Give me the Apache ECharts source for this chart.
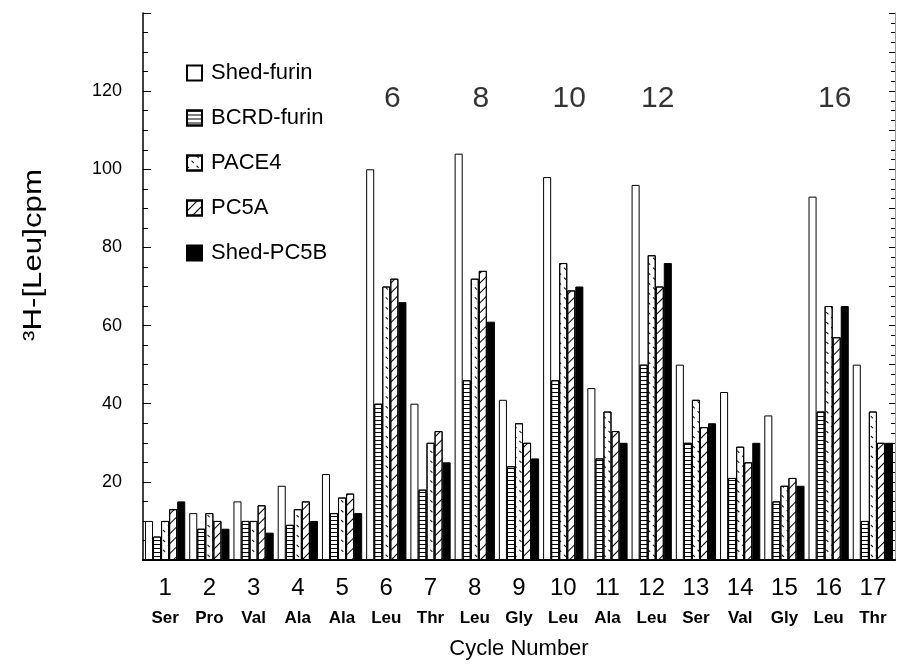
<!DOCTYPE html>
<html>
<head>
<meta charset="utf-8">
<script src="https://cdn.jsdelivr.net/npm/echarts@6/dist/echarts.min.js"></script>
<style>
  html, body { margin: 0; padding: 0; background: #fff; }
  #main { width: 898px; height: 670px; }
</style>
</head>
<body>
<div id="main"></div>
<script>
// data
var cycles = ['1','2','3','4','5','6','7','8','9','10','11','12','13','14','15','16','17'];
var residues = ['Ser','Pro','Val','Ala','Ala','Leu','Thr','Leu','Gly','Leu','Ala','Leu','Ser','Val','Gly','Leu','Thr'];
var shedFurin = [10, 12, 15, 19, 22, 100, 40, 104, 41, 98, 44, 96, 50, 43, 37, 93, 50];
var bcrdFurin = [6, 8, 10, 9, 12, 40, 18, 46, 24, 46, 26, 50, 30, 21, 15, 38, 10];
var pace4 = [10, 12, 10, 13, 16, 70, 30, 72, 35, 76, 38, 78, 41, 29, 19, 65, 38];
var pc5a = [13, 10, 14, 15, 17, 72, 33, 74, 30, 69, 33, 70, 34, 25, 21, 57, 30];
var shedPC5B = [15, 8, 7, 10, 12, 66, 25, 61, 26, 70, 30, 76, 35, 30, 19, 65, 30];
var leuCycles = ['6', '8', '10', '12', '16'];
var leuLabelLevel = 118;
var yTicks = [0, 20, 40, 60, 80, 100, 120, 140];

var FONT = '"Liberation Sans", Arial, Helvetica, sans-serif';

function bar(name, data, style) {
  return {
    name: name,
    type: 'bar',
    data: data,
    barGap: 0,
    barCategoryGap: '9%',
    itemStyle: style
  };
}

var myChart = echarts.init(document.getElementById('main'));
var option = {
  backgroundColor: '#fff',
  animation: false,
  textStyle: { fontFamily: FONT, color: '#000' },
  grid: { left: 143, right: 3, top: 13, bottom: 110 },
  legend: {
    data: ['Shed-furin', 'BCRD-furin', 'PACE4', 'PC5A', 'Shed-PC5B'],
    orient: 'vertical',
    left: 181,
    top: 57,
    icon: 'rect',
    itemWidth: 15,
    itemHeight: 15,
    itemGap: 23,
    textStyle: { fontSize: 22, color: '#000', fontFamily: FONT, padding: [0, 0, 0, 4] }
  },
  xAxis: [{
    type: 'category',
    data: cycles,
    position: 'bottom',
    axisLine: { lineStyle: { color: '#000', width: 2 } },
    axisTick: { show: false },
    axisLabel: {
      margin: 13,
      interval: 0,
      formatter: function (v, i) { return '{n|' + v + '}\n{a|' + residues[i] + '}'; },
      rich: {
        n: { fontSize: 24, lineHeight: 30, color: '#000', fontFamily: FONT },
        a: { fontSize: 17, fontWeight: 'bold', lineHeight: 30, color: '#000', fontFamily: FONT }
      }
    },
    name: 'Cycle Number',
    nameLocation: 'middle',
    nameGap: 78,
    nameTextStyle: { fontSize: 22, color: '#000', fontFamily: FONT }
  }, {
    type: 'category',
    data: cycles,
    position: 'top',
    axisLine: { lineStyle: { color: '#000', width: 1.5 } },
    axisTick: { show: false },
    axisLabel: { show: false }
  }],
  yAxis: [{
    type: 'value',
    min: yTicks[0],
    max: yTicks[yTicks.length - 1],
    interval: 20,
    position: 'left',
    axisLine: { show: true, lineStyle: { color: '#000', width: 1.5 } },
    axisTick: { show: true, inside: true, length: 8, lineStyle: { color: '#000' } },
    minorTick: { show: true, splitNumber: 4, length: 5, lineStyle: { color: '#000' } },
    splitLine: { show: false },
    axisLabel: {
      showMinLabel: false,
      showMaxLabel: false,
      margin: 21,
      fontSize: 18,
      color: '#000',
      fontFamily: FONT
    }
  }, {
    type: 'value',
    min: 0,
    max: 140,
    interval: 10,
    position: 'right',
    axisLine: { show: true, lineStyle: { color: '#999', width: 1 } },
    axisTick: { show: true, inside: true, length: 6, lineStyle: { color: '#000' } },
    minorTick: { show: true, splitNumber: 4, length: 4, lineStyle: { color: '#000' } },
    splitLine: { show: false },
    axisLabel: { show: false }
  }],
  graphic: [{
    type: 'text',
    x: 34,
    y: 255,
    rotation: Math.PI / 2,
    scaleX: 1.25,
    style: {
      text: '³H-[Leu]cpm',
      font: '25px ' + FONT,
      fill: '#000',
      align: 'center',
      verticalAlign: 'middle'
    }
  }],
  series: [
    bar('Shed-furin', shedFurin, { color: '#fff', borderColor: '#000', borderWidth: 1 }),
    bar('BCRD-furin', bcrdFurin, {
      color: '#fff', borderColor: '#000', borderWidth: 1,
      decal: { symbol: 'rect', symbolSize: 1, color: '#000', dashArrayX: [1, 0], dashArrayY: [1, 3], rotation: 0 }
    }),
    bar('PACE4', pace4, {
      color: '#fff', borderColor: '#000', borderWidth: 1,
      decal: { symbol: 'rect', symbolSize: 1, color: '#000', dashArrayX: [[3, 4]], dashArrayY: [1, 6], rotation: Math.PI / 4 }
    }),
    bar('PC5A', pc5a, {
      color: '#fff', borderColor: '#000', borderWidth: 1,
      decal: { symbol: 'rect', symbolSize: 1, color: '#000', dashArrayX: [1, 0], dashArrayY: [1, 6], rotation: -Math.PI / 4 }
    }),
    bar('Shed-PC5B', shedPC5B, { color: '#000', borderColor: '#000', borderWidth: 1 }),
    {
      name: 'leu',
      type: 'scatter',
      symbolSize: 0,
      silent: true,
      data: leuCycles.map(function (c) { return [c, leuLabelLevel]; }),
      label: {
        show: true,
        position: 'inside',
        offset: [6, 0],
        formatter: function (p) { return p.value[0]; },
        fontSize: 30,
        color: '#000',
        fontFamily: FONT
      }
    }
  ]
};
myChart.setOption(option);
</script>
</body>
</html>
